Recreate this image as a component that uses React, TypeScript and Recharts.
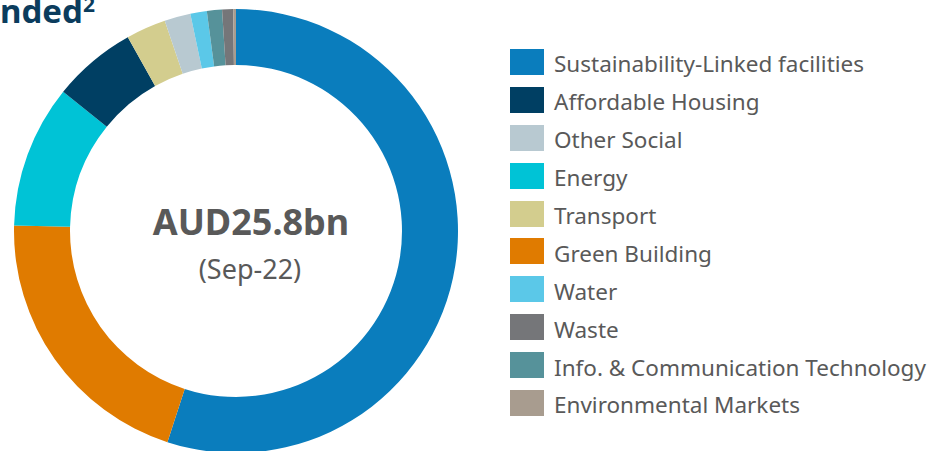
import React from "react";
import { PieChart, Pie, Cell, Legend } from "recharts";

// ring order, clockwise from 12 o'clock
const categories = [
  "Sustainability-Linked facilities",
  "Green Building",
  "Energy",
  "Affordable Housing",
  "Transport",
  "Other Social",
  "Water",
  "Info. & Communication Technology",
  "Waste",
  "Environmental Markets",
];

// share of AUD25.8bn, %
const shares = [55.0, 20.4, 10.4, 6.1, 2.9, 1.9, 1.2, 1.1, 0.8, 0.2];

const colors = [
  "#0a7dbd",
  "#e07b00",
  "#00c3d6",
  "#003f63",
  "#d3cd8e",
  "#b8c9d1",
  "#5bc8e8",
  "#56929a",
  "#757679",
  "#a89c8f",
];

const legendOrder = [
  "Sustainability-Linked facilities",
  "Affordable Housing",
  "Other Social",
  "Energy",
  "Transport",
  "Green Building",
  "Water",
  "Waste",
  "Info. & Communication Technology",
  "Environmental Markets",
];

const totalLabel = "AUD25.8bn";
const dateLabel = "(Sep-22)";

const data = categories.map((name, i) => ({ name, value: shares[i] }));

const FONT = "'Noto Sans', 'Open Sans', sans-serif";

const LegendBox = () => (
  <div style={{ fontFamily: FONT }}>
    {legendOrder.map((name) => {
      const c = colors[categories.indexOf(name)];
      return (
        <div key={name} style={{ display: "flex", alignItems: "center", height: 37.9 }}>
          <div style={{ width: 34, height: 26, background: c, marginRight: 10, flexShrink: 0 }} />
          <span style={{ fontSize: 22.5, color: "#595959", whiteSpace: "nowrap", position: "relative", top: 2 }}>
            {name}
          </span>
        </div>
      );
    })}
  </div>
);

export default function App() {
  return (
    <div style={{ position: "absolute", left: 0, top: 0, width: 933, height: 451, background: "#fff", overflow: "hidden" }}>
      <PieChart width={933} height={451}>
        <Pie
          data={data}
          dataKey="value"
          nameKey="name"
          cx={231}
          cy={226}
          innerRadius={166}
          outerRadius={222}
          startAngle={90}
          endAngle={-270}
          stroke="none"
          isAnimationActive={false}
        >
          {data.map((d, i) => (
            <Cell key={d.name} fill={colors[i]} />
          ))}
        </Pie>
        <Legend
          layout="vertical"
          content={LegendBox}
          wrapperStyle={{ position: "absolute", left: 510, top: 43, width: 423 }}
        />
      </PieChart>
      <svg width={933} height={451} style={{ position: "absolute", left: 0, top: 0, pointerEvents: "none" }}>
        <text x={0} y={23} fontFamily={FONT} fontSize={33} fontWeight={700} fill="#0b3c5d">
          nded
          <tspan fontSize={21} dy={-11}>2</tspan>
        </text>
        <text x={251} y={235} textAnchor="middle" fontFamily={FONT} fontSize={36} fontWeight={700} fill="#595959">
          {totalLabel}
        </text>
        <text x={250} y={279} textAnchor="middle" fontFamily={FONT} fontSize={27} fill="#595959">
          {dateLabel}
        </text>
      </svg>
    </div>
  );
}
